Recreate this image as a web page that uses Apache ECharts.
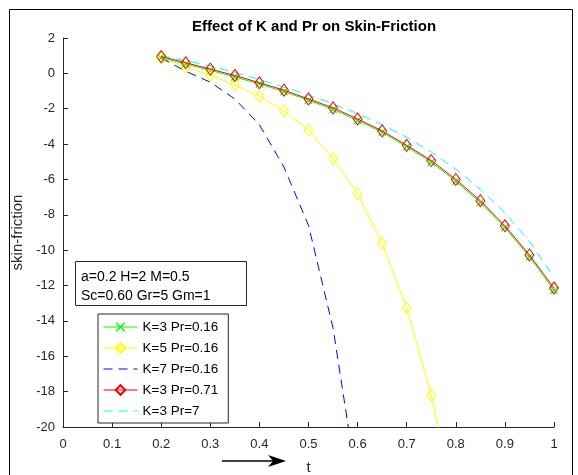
<!DOCTYPE html>
<html>
<head>
<meta charset="utf-8">
<script src="https://cdn.jsdelivr.net/npm/echarts@6/dist/echarts.min.js"></script>
<style>
  html, body { margin: 0; padding: 0; background: #fff; }
  #chart { width: 578px; height: 475px; }
</style>
</head>
<body>
<div id="chart"></div>
<script>
// t grid used by all curves
const tValues = [0.2, 0.25, 0.3, 0.35, 0.4, 0.45, 0.5, 0.55, 0.6, 0.65, 0.7, 0.75, 0.8, 0.85, 0.9, 0.95, 1.0];

// skin-friction values
const k3Pr016 = [0.88, 0.53, 0.17, -0.2, -0.6, -1.03, -1.52, -2.04, -2.66, -3.33, -4.15, -5.02, -6.1, -7.3, -8.72, -10.37, -12.26];
const k5Pr016 = [0.87, 0.35, -0.1, -0.65, -1.3, -2.12, -3.22, -4.82, -6.82, -9.6, -13.25, -18.2, -24.6];
const k7Pr016 = [0.87, 0.12, -0.5, -1.45, -2.9, -5.3, -8.6, -14.4, -23.4];
const k3Pr071 = [0.95, 0.6, 0.24, -0.12, -0.53, -0.95, -1.45, -1.95, -2.58, -3.25, -4.07, -4.93, -6.0, -7.2, -8.62, -10.27, -12.14];
const k3Pr7 = [1.0, 0.72, 0.42, 0.05, -0.35, -0.78, -1.22, -1.72, -2.28, -2.9, -3.62, -4.45, -5.42, -6.55, -7.9, -9.5, -11.55];

const xTicks = { min: 0, max: 1, step: 0.1 };
const yTicks = { min: -20, max: 2, step: 2 };

const FONT = '"Liberation Sans", Arial, sans-serif';
const AXIS_COLOR = '#262626';

// pair up t values with a curve
const toPairs = (ys) => ys.map((y, i) => [tValues[i], y]);

const crossSymbol = 'path://M0,1L1,0L5,4L9,0L10,1L6,5L10,9L9,10L5,6L1,10L0,9L4,5Z';

const chart = echarts.init(document.getElementById('chart'));

chart.setOption({
  animation: false,
  backgroundColor: '#fff',
  textStyle: { fontFamily: FONT },
  title: {
    text: 'Effect of K and Pr on Skin-Friction',
    left: 309,
    top: 14,
    textAlign: 'center',
    textStyle: { fontFamily: FONT, fontSize: 15, fontWeight: 'bold', color: '#000' },
  },
  grid: { left: 63, right: 24, top: 38, bottom: 48, containLabel: false, outerBoundsMode: 'none' },
  xAxis: {
    type: 'value',
    min: xTicks.min,
    max: xTicks.max,
    interval: xTicks.step,
    name: 't',
    nameLocation: 'middle',
    nameGap: 33,
    nameTextStyle: { fontFamily: FONT, fontSize: 15, color: AXIS_COLOR },
    axisLine: { show: true, onZero: false, lineStyle: { color: AXIS_COLOR, width: 1 } },
    axisTick: { show: true, inside: true, length: 5, lineStyle: { color: AXIS_COLOR } },
    axisLabel: { color: AXIS_COLOR, fontSize: 13, fontFamily: FONT, margin: 11 },
    splitLine: { show: false },
  },
  yAxis: {
    type: 'value',
    min: yTicks.min,
    max: yTicks.max,
    interval: yTicks.step,
    name: 'skin-friction',
    nameLocation: 'middle',
    nameGap: 33,
    nameRotate: 90,
    nameTextStyle: { fontFamily: FONT, fontSize: 15, color: AXIS_COLOR },
    axisLine: { show: true, onZero: false, lineStyle: { color: AXIS_COLOR, width: 1 } },
    axisTick: { show: true, inside: true, length: 5, lineStyle: { color: AXIS_COLOR } },
    axisLabel: { color: AXIS_COLOR, fontSize: 13, fontFamily: FONT, margin: 8 },
    splitLine: { show: false },
  },
  legend: {
    orient: 'vertical',
    left: 98,
    top: 314,
    padding: [6, 10, 5, 5],
    itemWidth: 34,
    itemHeight: 12,
    itemGap: 7,
    backgroundColor: '#fff',
    borderColor: AXIS_COLOR,
    borderWidth: 1,
    lineStyle: { width: 1 },
    textStyle: { fontFamily: FONT, fontSize: 13.5, color: '#000' },
    data: [
      'K=3 Pr=0.16',
      'K=5 Pr=0.16',
      { name: 'K=7 Pr=0.16', itemStyle: { opacity: 0 } },
      'K=3 Pr=0.71',
      { name: 'K=3 Pr=7', itemStyle: { opacity: 0 } },
    ],
  },
  series: [
    {
      name: 'K=3 Pr=0.16',
      type: 'line',
      data: toPairs(k3Pr016),
      symbol: crossSymbol,
      symbolSize: 8,
      itemStyle: { color: '#00ff00' },
      lineStyle: { color: '#00ff00', width: 1 },
      z: 2,
    },
    {
      name: 'K=5 Pr=0.16',
      type: 'line',
      data: toPairs(k5Pr016),
      symbol: 'diamond',
      symbolSize: [9, 12],
      itemStyle: { color: 'transparent', borderColor: '#ffff00', borderWidth: 1 },
      lineStyle: { color: '#ffff00', width: 1 },
      z: 2,
    },
    {
      name: 'K=7 Pr=0.16',
      type: 'line',
      data: toPairs(k7Pr016),
      symbol: 'none',
      itemStyle: { color: '#0000ff' },
      lineStyle: { color: '#0000ff', width: 1, type: [9, 6] },
      z: 2,
    },
    {
      name: 'K=3 Pr=0.71',
      type: 'line',
      data: toPairs(k3Pr071),
      symbol: 'diamond',
      symbolSize: [9, 12],
      itemStyle: { color: 'transparent', borderColor: '#ff0000', borderWidth: 1 },
      lineStyle: { color: '#ff0000', width: 1 },
      z: 3,
    },
    {
      name: 'K=3 Pr=7',
      type: 'line',
      data: toPairs(k3Pr7),
      symbol: 'none',
      itemStyle: { color: '#00ffff' },
      lineStyle: { color: '#00ffff', width: 1, type: [9, 6] },
      z: 2,
    },
  ],
  graphic: [
    // figure frame
    {
      type: 'rect',
      shape: { x: 9.5, y: 9.5, width: 563, height: 480 },
      style: { fill: 'none', stroke: '#000', lineWidth: 1 },
      z: 0,
      silent: true,
    },
    // parameter annotation
    {
      type: 'group',
      left: 75,
      top: 261,
      z: 50,
      children: [
        {
          type: 'rect',
          shape: { x: 0.5, y: 0.5, width: 171, height: 44 },
          style: { fill: '#fff', stroke: AXIS_COLOR, lineWidth: 1 },
        },
        {
          type: 'text',
          x: 6,
          y: 16,
          style: { text: 'a=0.2 H=2 M=0.5', font: '14px ' + FONT, fill: '#000', verticalAlign: 'middle' },
        },
        {
          type: 'text',
          x: 6,
          y: 35,
          style: { text: 'Sc=0.60 Gr=5 Gm=1', font: '14px ' + FONT, fill: '#000', verticalAlign: 'middle' },
        },
      ],
    },
    // arrow under the x axis
    {
      type: 'line',
      shape: { x1: 222, y1: 461, x2: 276, y2: 461 },
      style: { stroke: '#000', lineWidth: 1.5 },
      z: 50,
    },
    {
      type: 'polygon',
      shape: { points: [[286, 461], [268, 455], [273, 461], [268, 467]] },
      style: { fill: '#000' },
      z: 50,
    },
  ],
});
</script>
</body>
</html>
